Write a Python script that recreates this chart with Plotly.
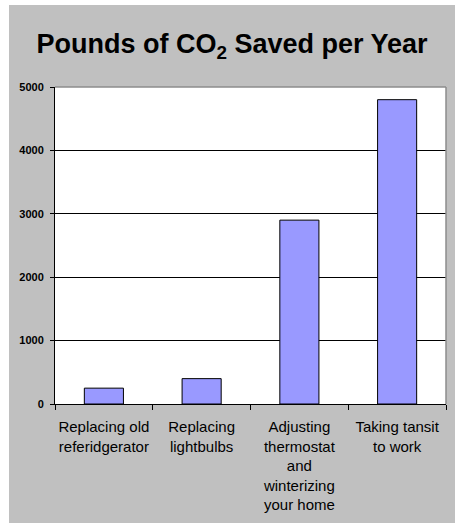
import plotly.graph_objects as go

categories = ["Replacing old<br>referidgerator", "Replacing<br>lightbulbs",
              "Adjusting<br>thermostat<br>and<br>winterizing<br>your home",
              "Taking tansit<br>to work"]
values = [250, 400, 2900, 4800]
y_ticks = [0, 1000, 2000, 3000, 4000, 5000]

W, H = 455, 523
L, R, T, B = 55, 9, 87, 119
pw, ph = W - L - R, H - T - B

def px_to_paper_x(px):
    return (px - L) / pw

def px_to_paper_y(py):
    return (H - B - py) / ph

fig = go.Figure(go.Bar(
    x=categories, y=values,
    marker=dict(color="#9999ff", line=dict(color="black", width=1)),
    hoverinfo="skip",
))

shapes = [
    # white strips outside the gray chart area
    dict(type="rect", xref="paper", yref="paper",
         x0=px_to_paper_x(0), x1=px_to_paper_x(9), y0=px_to_paper_y(H), y1=px_to_paper_y(0),
         fillcolor="white", line=dict(width=0), layer="above"),
    dict(type="rect", xref="paper", yref="paper",
         x0=px_to_paper_x(0), x1=px_to_paper_x(W), y0=px_to_paper_y(5), y1=px_to_paper_y(0),
         fillcolor="white", line=dict(width=0), layer="above"),
    # gray top & right border of plot area
    dict(type="line", xref="paper", yref="paper", x0=0, x1=1, y0=1, y1=1,
         line=dict(color="#8c8c8c", width=1.5), layer="above"),
    dict(type="line", xref="paper", yref="paper", x0=1, x1=1, y0=0, y1=1,
         line=dict(color="#8c8c8c", width=1.5), layer="above"),
]

fig.update_layout(
    width=W, height=H,
    margin=dict(l=L, r=R, t=T, b=B, autoexpand=False),
    paper_bgcolor="#c0c0c0",
    plot_bgcolor="white",
    showlegend=False,
    bargap=0.6,
    font=dict(family="Arial, Liberation Sans, sans-serif", color="black"),
    title=dict(
        text="<b>Pounds of CO<sub>2</sub> Saved per Year</b>",
        font=dict(size=27, family="Arial, Liberation Sans, sans-serif", color="black"),
        x=232 / W, xanchor="center", xref="container",
        y=1 - 44 / H, yanchor="middle", yref="container",
    ),
    shapes=shapes,
    xaxis=dict(
        showline=True, linecolor="black", linewidth=1,
        ticks="outside", ticklen=5, tickcolor="black", tickwidth=1,
        tickson="boundaries", showgrid=False,
        tickangle=0, automargin=False,
        tickfont=dict(size=15, color="black"),
        ticklabelstandoff=9,
    ),
    yaxis=dict(
        range=[0, 5000], tickvals=y_ticks,
        showline=True, linecolor="black", linewidth=1,
        ticks="outside", ticklen=4, tickcolor="black", tickwidth=1,
        showgrid=True, gridcolor="black", gridwidth=1,
        zeroline=False, automargin=False,
        tickfont=dict(size=11, color="black", weight="bold"),
        ticklabelstandoff=4,
    ),
)

fig.write_html("out.html")
